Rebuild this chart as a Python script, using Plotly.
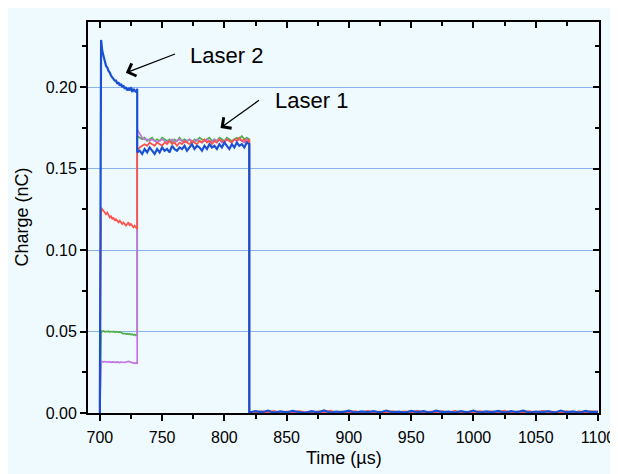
import numpy as np
import plotly.graph_objects as go

# ---- data ----
t_pulse2 = list(range(701, 731))          # µs, Laser 2 + Laser 1 window
t_pulse1 = list(range(730, 821, 2))       # µs, Laser 1 only
t_after = list(range(820, 1101, 5))       # µs, after pulses

blue_a = [0.229, 0.222, 0.218, 0.216, 0.213, 0.212, 0.210, 0.209, 0.207, 0.206,
          0.205, 0.204, 0.204, 0.202, 0.203, 0.201, 0.202, 0.200, 0.201, 0.199,
          0.200, 0.198, 0.199, 0.198, 0.200, 0.197, 0.199, 0.198, 0.197, 0.199]
red_a = [0.126, 0.125, 0.124, 0.123, 0.122, 0.123, 0.121, 0.120, 0.121, 0.119,
         0.120, 0.118, 0.119, 0.118, 0.117, 0.118, 0.117, 0.116, 0.117, 0.116,
         0.115, 0.116, 0.117, 0.115, 0.116, 0.115, 0.114, 0.115, 0.114, 0.113]
green_a = [0.0505, 0.0500, 0.0503, 0.0498, 0.0501, 0.0499, 0.0502, 0.0497, 0.0500, 0.0498,
           0.0501, 0.0496, 0.0499, 0.0497, 0.0495, 0.0498, 0.0494, 0.0490, 0.0486, 0.0489,
           0.0484, 0.0487, 0.0483, 0.0486, 0.0481, 0.0484, 0.0479, 0.0482, 0.0476, 0.0480]
purple_a = [0.0318, 0.0315, 0.0313, 0.0316, 0.0314, 0.0312, 0.0315, 0.0313, 0.0311, 0.0314,
            0.0312, 0.0313, 0.0311, 0.0314, 0.0312, 0.0310, 0.0313, 0.0311, 0.0312, 0.0310,
            0.0313, 0.0315, 0.0317, 0.0314, 0.0312, 0.0310, 0.0307, 0.0305, 0.0308, 0.0306]

blue_b = [0.160, 0.161, 0.159, 0.162, 0.160, 0.163, 0.161, 0.159, 0.162, 0.160,
          0.163, 0.161, 0.162, 0.160, 0.164, 0.162, 0.161, 0.163, 0.162, 0.164,
          0.161, 0.163, 0.165, 0.162, 0.164, 0.163, 0.161, 0.164, 0.162, 0.165,
          0.163, 0.164, 0.162, 0.165, 0.163, 0.166, 0.164, 0.162, 0.165, 0.163,
          0.166, 0.164, 0.165, 0.163, 0.166, 0.165]
red_b = [0.161, 0.163, 0.164, 0.165, 0.164, 0.166, 0.165, 0.164, 0.166, 0.165,
         0.164, 0.166, 0.165, 0.167, 0.165, 0.166, 0.164, 0.166, 0.165, 0.167,
         0.166, 0.165, 0.167, 0.166, 0.165, 0.167, 0.166, 0.168, 0.166, 0.167,
         0.165, 0.167, 0.166, 0.168, 0.167, 0.166, 0.168, 0.167, 0.166, 0.168,
         0.167, 0.169, 0.167, 0.168, 0.166, 0.168]
green_b = [0.170, 0.169, 0.168, 0.169, 0.167, 0.168, 0.169, 0.167, 0.168, 0.167,
           0.169, 0.168, 0.167, 0.168, 0.166, 0.168, 0.167, 0.169, 0.167, 0.168,
           0.167, 0.168, 0.166, 0.168, 0.167, 0.169, 0.168, 0.167, 0.168, 0.169,
           0.167, 0.168, 0.167, 0.169, 0.168, 0.167, 0.169, 0.168, 0.167, 0.168,
           0.169, 0.168, 0.170, 0.168, 0.169, 0.168]
purple_b = [0.174, 0.171, 0.169, 0.168, 0.168, 0.167, 0.168, 0.167, 0.166, 0.167,
            0.168, 0.167, 0.166, 0.167, 0.168, 0.166, 0.167, 0.168, 0.167, 0.166,
            0.167, 0.168, 0.167, 0.166, 0.168, 0.167, 0.166, 0.167, 0.168, 0.167,
            0.166, 0.168, 0.167, 0.168, 0.166, 0.167, 0.168, 0.167, 0.166, 0.168,
            0.167, 0.168, 0.167, 0.166, 0.168, 0.167]

blue_c = [0.0003, 0.0012, 0.0005, 0.0015, 0.0002, 0.0010, 0.0004, 0.0013, 0.0006, 0.0001,
          0.0011, 0.0004, 0.0016, 0.0003, 0.0009, 0.0005, 0.0014, 0.0002, 0.0010, 0.0006,
          0.0012, 0.0003, 0.0015, 0.0004, 0.0008, 0.0002, 0.0013, 0.0005, 0.0011, 0.0003,
          0.0014, 0.0006, 0.0009, 0.0002, 0.0012, 0.0004, 0.0015, 0.0003, 0.0010, 0.0005,
          0.0013, 0.0002, 0.0011, 0.0006, 0.0014, 0.0003, 0.0009, 0.0005, 0.0012, 0.0002,
          0.0015, 0.0004, 0.0010, 0.0003, 0.0013, 0.0005, 0.0008]
red_c = [0.0008, 0.0002, 0.0011, 0.0004, 0.0013, 0.0001, 0.0009, 0.0003, 0.0012, 0.0005,
         0.0002, 0.0010, 0.0004, 0.0014, 0.0002, 0.0008, 0.0005, 0.0011, 0.0003, 0.0013,
         0.0004, 0.0009, 0.0002, 0.0012, 0.0005, 0.0010, 0.0003, 0.0014, 0.0002, 0.0008,
         0.0005, 0.0011, 0.0003, 0.0013, 0.0004, 0.0009, 0.0002, 0.0012, 0.0005, 0.0010,
         0.0003, 0.0014, 0.0002, 0.0008, 0.0004, 0.0011, 0.0003, 0.0013, 0.0005, 0.0009,
         0.0002, 0.0012, 0.0004, 0.0010, 0.0003, 0.0011, 0.0005]
green_c = [0.0005, 0.0008, 0.0003, 0.0007, 0.0004, 0.0009, 0.0002, 0.0006, 0.0005, 0.0008,
           0.0003, 0.0007, 0.0004, 0.0006, 0.0002, 0.0009, 0.0005, 0.0007, 0.0003, 0.0006,
           0.0004, 0.0008, 0.0002, 0.0007, 0.0005, 0.0006, 0.0003, 0.0009, 0.0004, 0.0007,
           0.0002, 0.0006, 0.0005, 0.0008, 0.0003, 0.0007, 0.0004, 0.0009, 0.0002, 0.0006,
           0.0005, 0.0007, 0.0003, 0.0008, 0.0004, 0.0006, 0.0002, 0.0009, 0.0005, 0.0007,
           0.0003, 0.0006, 0.0004, 0.0008, 0.0002, 0.0007, 0.0005]
purple_c = [0.0004, 0.0006, 0.0002, 0.0007, 0.0005, 0.0003, 0.0008, 0.0004, 0.0006, 0.0002,
            0.0007, 0.0005, 0.0003, 0.0006, 0.0004, 0.0008, 0.0002, 0.0005, 0.0007, 0.0003,
            0.0006, 0.0004, 0.0008, 0.0002, 0.0005, 0.0007, 0.0003, 0.0006, 0.0004, 0.0008,
            0.0002, 0.0005, 0.0007, 0.0003, 0.0006, 0.0004, 0.0008, 0.0002, 0.0005, 0.0007,
            0.0003, 0.0006, 0.0004, 0.0008, 0.0002, 0.0005, 0.0007, 0.0003, 0.0006, 0.0004,
            0.0008, 0.0002, 0.0005, 0.0007, 0.0003, 0.0006, 0.0004]

x_ticks = [700, 750, 800, 850, 900, 950, 1000, 1050, 1100]
y_ticks = [0.00, 0.05, 0.10, 0.15, 0.20]

series = [
    ("green", green_a, green_b, green_c, "#4FAF4A", 1.7),
    ("purple", purple_a, purple_b, purple_c, "#C374E0", 1.7),
    ("red", red_a, red_b, red_c, "#FF5349", 1.7),
    ("blue", blue_a, blue_b, blue_c, "#1C50D2", 2.2),
]

BG = "#EFFAFF"
FONT = "Liberation Sans, Arial, sans-serif"

fig = go.Figure()
t_all = [700] + t_pulse2 + t_pulse1 + t_after
for name, a, b, c, color, w in series:
    fig.add_trace(go.Scatter(
        x=t_all, y=[0.0] + a + b + c, mode="lines", name=name,
        line=dict(color=color, width=w), showlegend=False, hoverinfo="skip"))

# invisible trace so the top/right frame axes are drawn
fig.add_trace(go.Scatter(x=[x_ticks[0]], y=[y_ticks[0]], xaxis="x2", yaxis="y2",
                         mode="markers", marker=dict(opacity=0), showlegend=False,
                         hoverinfo="skip"))

axis_common = dict(showline=True, linecolor="black", linewidth=2,
                   zeroline=False, tickcolor="black", tickwidth=1.5)

fig.update_layout(
    width=618, height=474,
    margin=dict(l=80, r=27, t=14, b=69),
    paper_bgcolor=BG, plot_bgcolor=BG,
    font=dict(family=FONT, size=16, color="black"),
    xaxis=dict(range=[690.5, 1100.8], tickvals=x_ticks, ticks="outside", ticklen=6,
               showgrid=False, minor=dict(ticks="outside", ticklen=4, dtick=25,
                                           tick0=700, tickcolor="black", tickwidth=1.5),
               tickfont=dict(size=16), ticklabelstandoff=3, **axis_common),
    yaxis=dict(range=[0, 0.24], tickvals=y_ticks, tickformat=".2f", ticks="outside",
               ticklen=6, showgrid=True, gridcolor="#8AB2E8", gridwidth=1,
               minor=dict(ticks="outside", ticklen=4, dtick=0.025, tick0=0,
                          tickcolor="black", tickwidth=1.5, showgrid=False),
               tickfont=dict(size=16), ticklabelstandoff=0, **axis_common),
    xaxis2=dict(range=[690.5, 1100.8], overlaying="x", side="top", anchor="y2",
                tickvals=x_ticks, ticks="inside", ticklen=6, showticklabels=False,
                showgrid=False, minor=dict(ticks="inside", ticklen=4, dtick=25, tick0=700,
                                           tickcolor="black", tickwidth=1.5),
                **axis_common),
    yaxis2=dict(range=[0, 0.24], overlaying="y", side="right", anchor="x2",
                tickvals=y_ticks, ticks="inside", ticklen=6, showticklabels=False,
                showgrid=False, minor=dict(ticks="inside", ticklen=4, dtick=0.025, tick0=0,
                                           tickcolor="black", tickwidth=1.5),
                **axis_common),
)

# axis titles
fig.add_annotation(text="Time (µs)", xref="paper", yref="paper", x=0.5, y=-0.115,
                   xanchor="center", yanchor="middle", showarrow=False,
                   font=dict(size=18, family=FONT))
fig.add_annotation(text="Charge (nC)", xref="paper", yref="paper", x=-0.131, y=0.5,
                   xanchor="center", yanchor="middle", textangle=-90, showarrow=False,
                   font=dict(size=18, family=FONT))

# labels and arrows
fig.add_annotation(text="Laser 2", x=770.7, y=0.2196, xref="x", yref="y",
                   xanchor="left", yanchor="middle", showarrow=False,
                   font=dict(size=22, family=FONT))
fig.add_annotation(text="Laser 1", x=839.0, y=0.1920, xref="x", yref="y",
                   xanchor="left", yanchor="middle", showarrow=False,
                   font=dict(size=22, family=FONT))
for hx, hy, tx, ty in [(720.9, 0.2088, 761.6, 0.2207), (796.9, 0.1750, 829.0, 0.1926)]:
    fig.add_annotation(text="", x=hx, y=hy, ax=tx, ay=ty, xref="x", yref="y",
                       axref="x", ayref="y", showarrow=True, arrowhead=4,
                       arrowsize=2.0, arrowwidth=1.3, arrowcolor="black", standoff=0)

fig.write_html("out.html")
